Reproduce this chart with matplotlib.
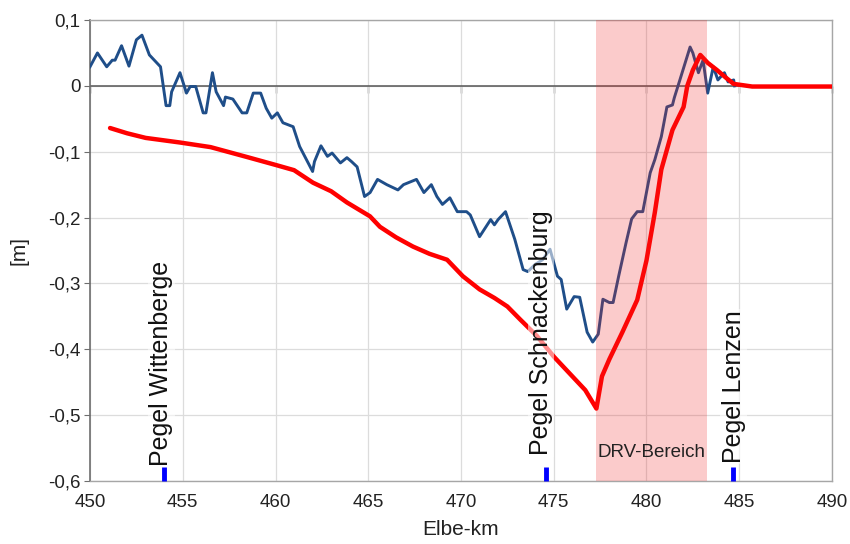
import matplotlib
matplotlib.use("Agg")
import matplotlib.pyplot as plt
from matplotlib.ticker import FuncFormatter, MultipleLocator, NullFormatter

plt.rcParams['font.family'] = ['Liberation Sans', 'DejaVu Sans']

# Measured water-level difference (blue) along the Elbe
blue_km = [450.0, 450.4, 450.9, 451.2, 451.35, 451.7, 452.1, 452.5, 452.8, 453.2,
           453.8, 454.1, 454.3, 454.4, 454.85, 455.2, 455.4, 455.7, 456.1, 456.25,
           456.6, 456.8, 457.2, 457.3, 457.7, 458.2, 458.45, 458.8, 459.2, 459.5,
           459.8, 460.1, 460.4, 460.95, 461.3, 462.0, 462.1, 462.45, 462.8, 463.05,
           463.5, 463.85, 464.1, 464.4, 464.8, 465.1, 465.5, 466.0, 466.6, 466.9,
           467.6, 468.0, 468.4, 468.7, 469.0, 469.4, 469.8, 470.3, 470.5, 471.0,
           471.6, 471.8, 472.0, 472.4, 472.9, 473.35, 473.6, 474.0, 474.4, 474.8,
           475.2, 475.4, 475.7, 476.1, 476.4, 476.8, 477.1, 477.4, 477.65, 478.0,
           478.2, 478.5, 478.9, 479.2, 479.5, 479.8, 480.2, 480.45, 480.8, 481.1,
           481.4, 481.5, 481.8, 482.35, 482.5, 482.8, 483.05, 483.3, 483.6, 483.85,
           484.2, 484.4, 484.7, 484.75]
blue_val = [0.029, 0.050, 0.029, 0.039, 0.039, 0.061, 0.030, 0.070, 0.077, 0.047,
            0.029, -0.030, -0.030, -0.009, 0.020, -0.011, -0.001, -0.001, -0.041, -0.041,
            0.020, -0.009, -0.030, -0.017, -0.020, -0.041, -0.041, -0.011, -0.011, -0.034,
            -0.049, -0.041, -0.056, -0.062, -0.092, -0.130, -0.115, -0.091, -0.107, -0.102,
            -0.117, -0.109, -0.115, -0.123, -0.168, -0.162, -0.142, -0.150, -0.158, -0.150,
            -0.142, -0.162, -0.150, -0.168, -0.180, -0.170, -0.191, -0.191, -0.196, -0.229,
            -0.203, -0.211, -0.203, -0.191, -0.233, -0.279, -0.282, -0.271, -0.264, -0.248,
            -0.289, -0.294, -0.339, -0.320, -0.321, -0.374, -0.389, -0.377, -0.324, -0.329,
            -0.329, -0.289, -0.238, -0.202, -0.191, -0.191, -0.132, -0.112, -0.077, -0.032,
            -0.029, -0.018, 0.009, 0.059, 0.050, 0.020, 0.039, -0.011, 0.029, 0.009,
            0.020, 0.006, 0.009, 0.000]

# Computed water-level difference (red)
red_km = [451.08, 452.0, 453.0, 454.85, 456.5, 458.46, 460.0, 461.0, 462.02, 463.0,
          463.85, 465.09, 465.63, 466.5, 467.41, 468.3, 469.25, 470.1, 471.0, 471.8,
          472.5, 473.2, 474.1, 475.0, 476.0, 476.7, 477.3, 477.6, 478.0, 478.7,
          479.5, 480.0, 480.45, 480.8, 481.4, 482.0, 482.2, 482.5, 482.9, 483.3,
          483.8, 484.3, 484.7, 485.7, 490.0]
red_val = [-0.064, -0.072, -0.079, -0.086, -0.093, -0.108, -0.120, -0.128, -0.147, -0.160,
           -0.177, -0.198, -0.214, -0.230, -0.244, -0.255, -0.264, -0.289, -0.309, -0.322,
           -0.335, -0.355, -0.380, -0.411, -0.441, -0.462, -0.490, -0.441, -0.415, -0.374,
           -0.325, -0.265, -0.192, -0.127, -0.067, -0.032, 0.000, 0.024, 0.047, 0.035,
           0.024, 0.012, 0.003, -0.001, -0.001]

# Gauges along the river
gauge_names = ["Pegel Wittenberge", "Pegel Schnackenburg", "Pegel Lenzen"]
gauge_km = [454.0, 474.6, 484.65]
gauge_text_km = [453.85, 474.3, 484.7]
gauge_text_y = [-0.577, -0.561, -0.572]

drv_range = (477.3, 483.25)
drv_label = "DRV-Bereich"

x_ticks = [450, 455, 460, 465, 470, 475, 480, 485, 490]

fig = plt.figure(figsize=(8.5, 5.44), dpi=100)
ax = fig.add_axes([0.1059, 0.1158, 0.8729, 0.8474])

ax.set_xlim(450, 490)
ax.set_ylim(-0.6, 0.1)
ax.set_xticks(x_ticks)
ax.yaxis.set_major_locator(MultipleLocator(0.1))


def comma_fmt(v, pos):
    v = round(v, 1)
    if abs(v) < 1e-9:
        return "0"
    return ("%.1f" % v).replace(".", ",")


ax.yaxis.set_major_formatter(FuncFormatter(comma_fmt))
ax.grid(True, color="#dcdcdc", linewidth=0.9, zorder=0)
ax.set_axisbelow(True)

for side in ["top", "right", "bottom"]:
    ax.spines[side].set_color("#a6a6a6")
    ax.spines[side].set_linewidth(1.0)
ax.spines["left"].set_color("#6e6e6e")
ax.spines["left"].set_linewidth(1.2)

ax.tick_params(axis="y", direction="out", length=4, color="#6e6e6e",
               labelsize=13.5, labelcolor="#222222", pad=3)
ax.tick_params(axis="x", length=0, labelsize=13.5, labelcolor="#222222", pad=9)

# zero line with its own tick marks
ax.axhline(0, color="#555555", linewidth=1.1, zorder=1)
zero_ax = ax.secondary_xaxis(0.6 / 0.7)
zero_ax.xaxis.set_ticks_position("bottom")
zero_ax.set_xticks(x_ticks)
zero_ax.xaxis.set_major_formatter(NullFormatter())
zero_ax.tick_params(axis="x", direction="out", length=5, width=1.0,
                    color="#555555", labelbottom=False, labeltop=False)
zero_ax.spines["bottom"].set_visible(False)
zero_ax.spines["top"].set_visible(False)

ax.plot(blue_km, blue_val, color="#1f4e89", linewidth=2.1, zorder=3,
        solid_joinstyle="round")
ax.plot(red_km, red_val, color="#ff0000", linewidth=3.2, zorder=4,
        solid_joinstyle="round", solid_capstyle="round")

# DRV section shading
ax.axvspan(drv_range[0], drv_range[1], color="#f02020", alpha=0.23,
           linewidth=0, zorder=5)
ax.text((drv_range[0] + drv_range[1]) / 2, -0.556, drv_label, ha="center",
        va="center", fontsize=13.5, color="#222222", zorder=7)

for name, km, tkm, ty in zip(gauge_names, gauge_km, gauge_text_km, gauge_text_y):
    ax.plot([km, km], [-0.6, -0.579], color="#0000ff", linewidth=3.5,
            solid_capstyle="butt", zorder=6, clip_on=False)
    ax.text(tkm, ty, name, rotation=90, ha="center", va="bottom",
            fontsize=18, color="#111111", zorder=7,
            bbox=dict(boxstyle="square,pad=0.05", facecolor="white",
                      edgecolor="none", alpha=0.55))

ax.set_xlabel("Elbe-km", fontsize=15, color="#222222", labelpad=7)
ax.set_ylabel("[m]", fontsize=15, color="#222222", labelpad=14)

fig.savefig("out.png", dpi=100)
